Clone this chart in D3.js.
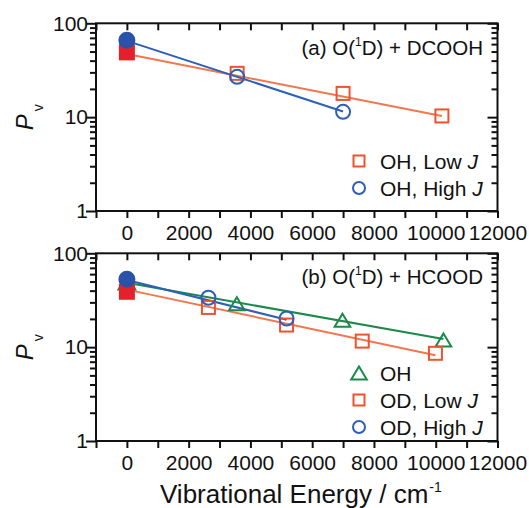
<!DOCTYPE html>
<html>
<head>
<meta charset="utf-8">
<script src="https://cdn.jsdelivr.net/npm/d3@7"></script>
<style>
  body { margin: 0; background: #fff; }
  svg { font-family: "Liberation Sans", Arial, sans-serif; }
</style>
</head>
<body>
<svg id="chart" width="529" height="508"></svg>
<script>
// (a) O(1D) + DCOOH
var aLowE = [0, 3570, 7000, 10200];
var aLowP = [49, 29.3, 17.9, 10.3];
var aHighE = [0, 3570, 7000];
var aHighP = [66, 26.9, 11.4];
var aLowFitE = [0, 10200];
var aLowFitP = [47, 10.3];
var aHighFitE = [0, 7000];
var aHighFitP = [65, 11.5];

// (b) O(1D) + HCOOD
var bOHE = [0, 3560, 6980, 10250];
var bOHP = [49, 29, 19.4, 11.9];
var bLowE = [0, 2640, 5170, 7620, 9990];
var bLowP = [38.9, 26.5, 17.2, 11.6, 8.6];
var bHighE = [0, 2640, 5170];
var bHighP = [53, 33.6, 20.2];
var bOHFitE = [0, 10250];
var bOHFitP = [48.5, 12.2];
var bLowFitE = [0, 9990];
var bLowFitP = [41, 8.2];
var bHighFitE = [0, 5170];
var bHighFitP = [52, 19.6];

var xLabelTicks = [0, 2000, 4000, 6000, 8000, 10000, 12000];
var yLabelTicks = [1, 10, 100];

var ORANGE = "#f0522e", ORANGE_LINE = "#f4764f", RED = "#e4212a";
var BLUE = "#2c5fb8", BLUE_FILL = "#2a52a8", GREEN = "#1b8a48";

var svg = d3.select("#chart");

var x = d3.scaleLinear().domain([-1000, 12000]).range([96, 497.5]);
var xMinor = d3.range(-1000, 12001, 1000);
var yMinor = [];
[1, 10].forEach(function(d) { for (var k = 2; k <= 9; k++) yMinor.push(d * k); });

var panels = [
  {
    top: 23.3, bottom: 211,
    title: ["(a) O(", "1", "D) + DCOOH"], titleY: 55,
    series: [
      {shape: "square", color: ORANGE, fill: RED, line: ORANGE_LINE, E: aLowE, P: aLowP, fitE: aLowFitE, fitP: aLowFitP, label: "OH, Low ", italic: "J"},
      {shape: "circle", color: BLUE, fill: BLUE_FILL, line: BLUE, E: aHighE, P: aHighP, fitE: aHighFitE, fitP: aHighFitP, label: "OH, High ", italic: "J"}
    ],
    legendY: [161, 188]
  },
  {
    top: 253.3, bottom: 441,
    title: ["(b) O(", "1", "D) + HCOOD"], titleY: 284,
    series: [
      {shape: "triangle", color: GREEN, fill: GREEN, line: GREEN, E: bOHE, P: bOHP, fitE: bOHFitE, fitP: bOHFitP, label: "OH", italic: ""},
      {shape: "square", color: ORANGE, fill: RED, line: ORANGE_LINE, E: bLowE, P: bLowP, fitE: bLowFitE, fitP: bLowFitP, label: "OD, Low ", italic: "J"},
      {shape: "circle", color: BLUE, fill: BLUE_FILL, line: BLUE, E: bHighE, P: bHighP, fitE: bHighFitE, fitP: bHighFitP, label: "OD, High ", italic: "J"}
    ],
    legendY: [373, 400, 427]
  }
];

function marker(g, shape, cx, cy, size, stroke, fill) {
  var m;
  if (shape == "square") {
    m = g.append("rect").attr("x", cx - size / 2).attr("y", cy - size / 2)
      .attr("width", size).attr("height", size);
  } else if (shape == "circle") {
    m = g.append("circle").attr("cx", cx).attr("cy", cy).attr("r", size / 2);
  } else {
    var w = size * 1.2, h = size;
    m = g.append("path").attr("d", "M" + cx + "," + (cy - h / 2) + "L" + (cx + w / 2) + "," + (cy + h / 2) +
      "L" + (cx - w / 2) + "," + (cy + h / 2) + "Z");
  }
  m.attr("stroke", stroke).attr("stroke-width", 2)
    .attr("fill", fill || "none");
}

panels.forEach(function(p) {
  var y = d3.scaleLog().domain([1, 100]).range([p.bottom, p.top]);
  var g = svg.append("g");

  // axes
  var axes = [
    g.append("g").attr("transform", "translate(0," + p.bottom + ")")
      .call(d3.axisBottom(x).tickValues(xMinor).tickSize(7).tickPadding(7)
        .tickFormat(function(d) { return xLabelTicks.indexOf(d) >= 0 ? d : ""; })),
    g.append("g").attr("transform", "translate(0," + p.top + ")")
      .call(d3.axisTop(x).tickValues(xMinor).tickSize(-7).tickFormat("")),
    g.append("g").attr("transform", "translate(" + x.range()[0] + ",0)")
      .call(d3.axisLeft(y).tickValues(yLabelTicks).tickSize(10).tickPadding(-2).tickFormat(d3.format("d"))),
    g.append("g").attr("transform", "translate(" + x.range()[0] + ",0)")
      .call(d3.axisLeft(y).tickValues(yMinor).tickSize(6).tickFormat("")),
    g.append("g").attr("transform", "translate(" + x.range()[1] + ",0)")
      .call(d3.axisRight(y).tickValues(yLabelTicks).tickSize(-10).tickFormat("")),
    g.append("g").attr("transform", "translate(" + x.range()[1] + ",0)")
      .call(d3.axisRight(y).tickValues(yMinor).tickSize(-6).tickFormat(""))
  ];
  axes.forEach(function(a) {
    a.select(".domain").remove();
    a.selectAll("line").attr("stroke", "#111").attr("stroke-width", 2);
    a.selectAll("text").attr("fill", "#111").style("font-size", "21px")
      .style("font-family", "'Liberation Sans', Arial, sans-serif");
  });

  g.append("rect")
    .attr("x", x.range()[0]).attr("y", p.top)
    .attr("width", x.range()[1] - x.range()[0]).attr("height", p.bottom - p.top)
    .attr("fill", "none").attr("stroke", "#111").attr("stroke-width", 2);

  // fit lines
  var line = d3.line().x(function(d) { return x(d[0]); }).y(function(d) { return y(d[1]); });
  p.series.forEach(function(s) {
    g.append("path").datum(d3.zip(s.fitE, s.fitP))
      .attr("d", line).attr("fill", "none").attr("stroke", s.line).attr("stroke-width", 2);
  });

  // markers, first point (v = 0) is filled
  p.series.forEach(function(s) {
    s.E.forEach(function(e, i) {
      var size = s.shape == "triangle" ? 13 : (s.shape == "circle" ? 14 : 13);
      if (i == 0) marker(g, s.shape, x(e), y(s.P[i]), size + 1, s.fill, s.fill);
      else marker(g, s.shape, x(e), y(s.P[i]), size, s.color, null);
    });
  });

  // legend
  p.series.forEach(function(s, i) {
    var ly = p.legendY[i];
    var size = s.shape == "triangle" ? 13 : (s.shape == "circle" ? 12 : 11);
    marker(g, s.shape, 359, ly, size, s.color, null);
    var t = g.append("text").attr("x", 380).attr("y", ly + 7.5)
      .style("font-size", "21px").attr("fill", "#111").text(s.label);
    if (s.italic) t.append("tspan").style("font-style", "italic").text(s.italic);
  });

  // panel title
  var tt = g.append("text").attr("x", 483).attr("y", p.titleY).attr("text-anchor", "end")
    .style("font-size", "20.5px").attr("fill", "#111");
  tt.append("tspan").text(p.title[0]);
  tt.append("tspan").attr("dy", -9).style("font-size", "12px").text(p.title[1]);
  tt.append("tspan").attr("dy", 9).text(p.title[2]);

  // y label
  var yl = g.append("text")
    .attr("transform", "translate(33," + ((p.top + p.bottom) / 2) + ") rotate(-90)")
    .attr("text-anchor", "middle").style("font-size", "24px").attr("fill", "#111");
  yl.append("tspan").style("font-style", "italic").text("P");
  yl.append("tspan").attr("dx", 3).attr("dy", 10).style("font-size", "14px").text("v");
});

var xl = svg.append("text").attr("x", 160).attr("y", 503)
  .style("font-size", "26px").attr("fill", "#111");
xl.append("tspan").text("Vibrational Energy / cm");
xl.append("tspan").attr("dx", 1).attr("dy", -11).style("font-size", "14px").text("-1");
</script>
</body>
</html>
